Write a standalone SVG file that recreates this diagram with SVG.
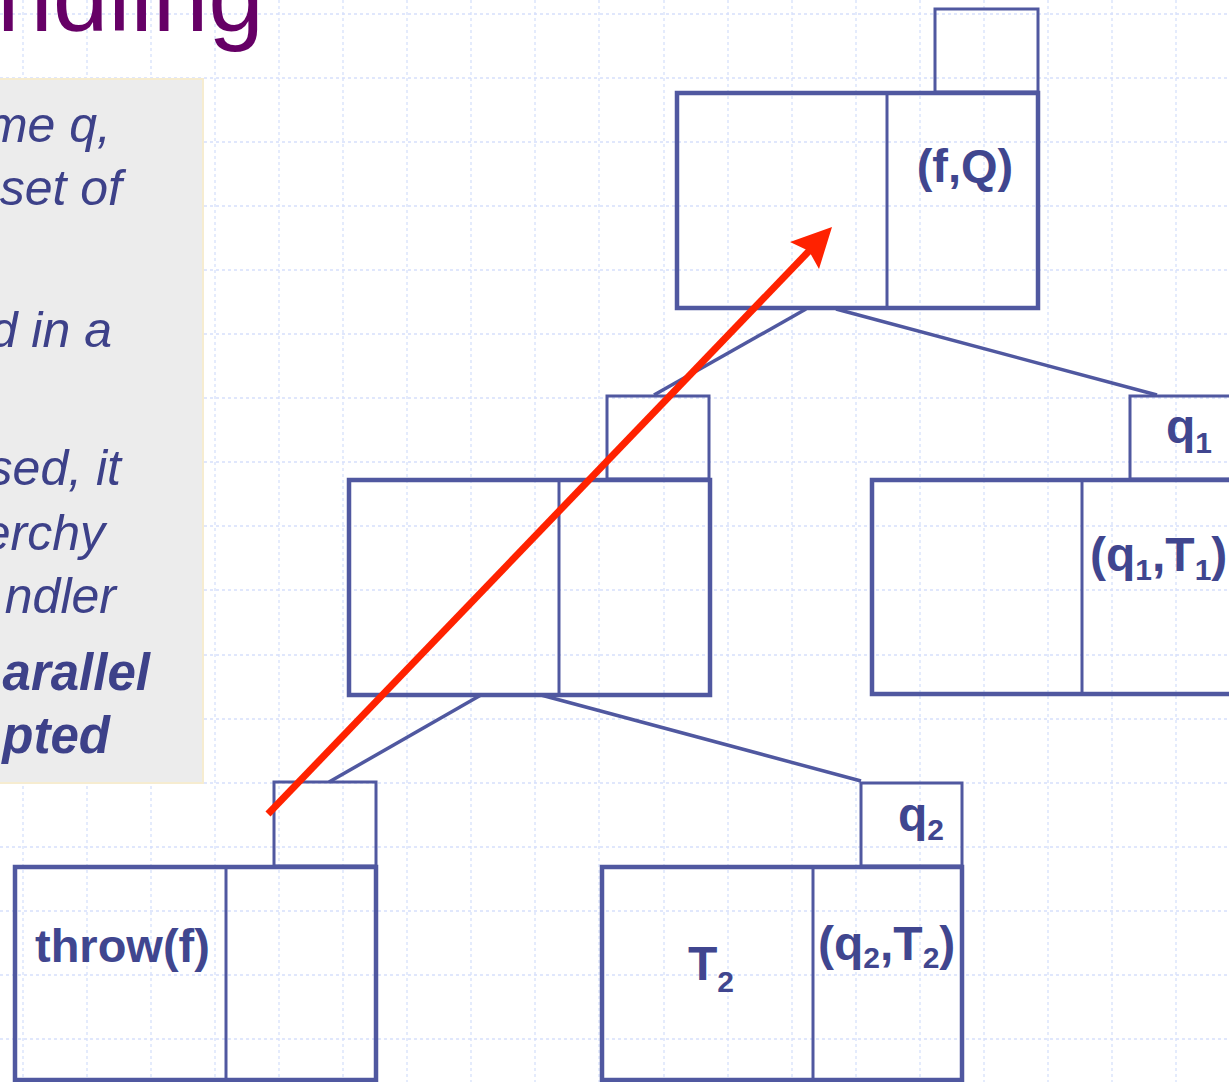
<svg xmlns="http://www.w3.org/2000/svg" width="1229" height="1082" viewBox="0 0 1229 1082">
<defs>
<style>
.grid line{stroke:#d6e0fb;stroke-width:1.3;stroke-dasharray:3 3}
.box{fill:none;stroke:#5058a0;stroke-width:4.5}
.small{fill:none;stroke:#5058a0;stroke-width:3}
.div{stroke:#5058a0;stroke-width:3}
.conn line{stroke:#5058a0;stroke-width:3.5}
.lbl{font-family:"Liberation Sans",Arial,sans-serif;font-weight:bold;font-size:48px;fill:#40468f}
.sub{font-size:30px}
.lbl2{font-family:"Liberation Sans",Arial,sans-serif;font-weight:bold;font-size:47px;fill:#40468f}
.note{font-family:"Liberation Sans",Arial,sans-serif;font-style:italic;font-size:50px;fill:#3d4189;text-anchor:end}
.noteb{font-weight:bold;font-size:51px}
</style>
</defs>
<rect width="1229" height="1082" fill="#ffffff"/>
<g class="grid">
<line x1="23" y1="0" x2="23" y2="1082"/>
<line x1="87" y1="0" x2="87" y2="1082"/>
<line x1="151" y1="0" x2="151" y2="1082"/>
<line x1="215" y1="0" x2="215" y2="1082"/>
<line x1="279" y1="0" x2="279" y2="1082"/>
<line x1="343" y1="0" x2="343" y2="1082"/>
<line x1="407" y1="0" x2="407" y2="1082"/>
<line x1="471" y1="0" x2="471" y2="1082"/>
<line x1="535" y1="0" x2="535" y2="1082"/>
<line x1="599" y1="0" x2="599" y2="1082"/>
<line x1="664" y1="0" x2="664" y2="1082"/>
<line x1="728" y1="0" x2="728" y2="1082"/>
<line x1="792" y1="0" x2="792" y2="1082"/>
<line x1="856" y1="0" x2="856" y2="1082"/>
<line x1="920" y1="0" x2="920" y2="1082"/>
<line x1="984" y1="0" x2="984" y2="1082"/>
<line x1="1048" y1="0" x2="1048" y2="1082"/>
<line x1="1112" y1="0" x2="1112" y2="1082"/>
<line x1="1176" y1="0" x2="1176" y2="1082"/>
<line x1="0" y1="14" x2="1229" y2="14"/>
<line x1="0" y1="78" x2="1229" y2="78"/>
<line x1="0" y1="142" x2="1229" y2="142"/>
<line x1="0" y1="206" x2="1229" y2="206"/>
<line x1="0" y1="270" x2="1229" y2="270"/>
<line x1="0" y1="334" x2="1229" y2="334"/>
<line x1="0" y1="398" x2="1229" y2="398"/>
<line x1="0" y1="462" x2="1229" y2="462"/>
<line x1="0" y1="526" x2="1229" y2="526"/>
<line x1="0" y1="590" x2="1229" y2="590"/>
<line x1="0" y1="655" x2="1229" y2="655"/>
<line x1="0" y1="719" x2="1229" y2="719"/>
<line x1="0" y1="783" x2="1229" y2="783"/>
<line x1="0" y1="847" x2="1229" y2="847"/>
<line x1="0" y1="911" x2="1229" y2="911"/>
<line x1="0" y1="975" x2="1229" y2="975"/>
<line x1="0" y1="1039" x2="1229" y2="1039"/>
</g>
<text x="264" y="31" font-family="'Liberation Sans',Arial,sans-serif" font-size="100" fill="#660066" text-anchor="end">ndling</text>
<g id="notes">
<rect x="-10" y="79" width="213" height="704" fill="#ececec" stroke="#f6ecd0" stroke-width="2"/>
<text class="note" x="111" y="142">me q,</text>
<text class="note" x="122" y="205">set of</text>
<text class="note" x="112" y="347">d in a</text>
<text class="note" x="121" y="485">sed, it</text>
<text class="note" x="105" y="550">erchy</text>
<text class="note" x="116" y="613">ndler</text>
<text class="note noteb" x="150" y="690">arallel</text>
<text class="note noteb" x="110" y="753">pted</text>
</g>
<g id="connectors" class="conn">
<line x1="806" y1="309" x2="654" y2="395"/>
<line x1="836" y1="309" x2="1157" y2="395"/>
<line x1="481" y1="695" x2="329" y2="782"/>
<line x1="541" y1="695" x2="861" y2="781"/>
</g>
<g id="node-root">
<rect class="small" x="935" y="9" width="103" height="83"/>
<rect class="box" x="677" y="93" width="361" height="215"/>
<line class="div" x1="887" y1="93" x2="887" y2="308"/>
<text class="lbl2" x="965" y="182" text-anchor="middle">(f,Q)</text>
</g>
<g id="node-mid">
<rect class="small" x="607" y="396" width="102" height="83"/>
<rect class="box" x="349" y="480" width="361" height="215"/>
<line class="div" x1="559" y1="480" x2="559" y2="695"/>
</g>
<g id="node-q1">
<rect class="small" x="1130" y="396" width="103" height="83"/>
<rect class="box" x="872" y="480" width="361" height="214"/>
<line class="div" x1="1082" y1="480" x2="1082" y2="694"/>
<text class="lbl" x="1166" y="443">q<tspan class="sub" dy="10">1</tspan></text>
<text class="lbl" x="1090" y="571">(q<tspan class="sub" dy="9">1</tspan><tspan dy="-9">,T</tspan><tspan class="sub" dy="9">1</tspan><tspan dy="-9">)</tspan></text>
</g>
<g id="node-throw">
<rect class="small" x="274" y="782" width="102" height="84"/>
<rect class="box" x="15" y="867" width="361" height="213"/>
<line class="div" x1="226" y1="867" x2="226" y2="1080"/>
<text class="lbl2" x="35" y="962" font-size="48">throw(f)</text>
</g>
<g id="node-q2">
<rect class="small" x="861" y="783" width="101" height="83"/>
<rect class="box" x="602" y="867" width="360" height="213"/>
<line class="div" x1="813" y1="867" x2="813" y2="1080"/>
<text class="lbl" x="898" y="831">q<tspan class="sub" dy="9">2</tspan></text>
<text class="lbl" x="818" y="960">(q<tspan class="sub" dy="8">2</tspan><tspan dy="-8">,T</tspan><tspan class="sub" dy="8">2</tspan><tspan dy="-8">)</tspan></text>
<text class="lbl" x="688" y="980">T<tspan class="sub" dy="12">2</tspan></text>
</g>
<g id="arrow">
<line x1="268" y1="814" x2="810" y2="250" stroke="#ff2200" stroke-width="7"/>
<polygon points="832,227 790,242 809,251 819,269" fill="#ff2200"/>
</g>
</svg>
